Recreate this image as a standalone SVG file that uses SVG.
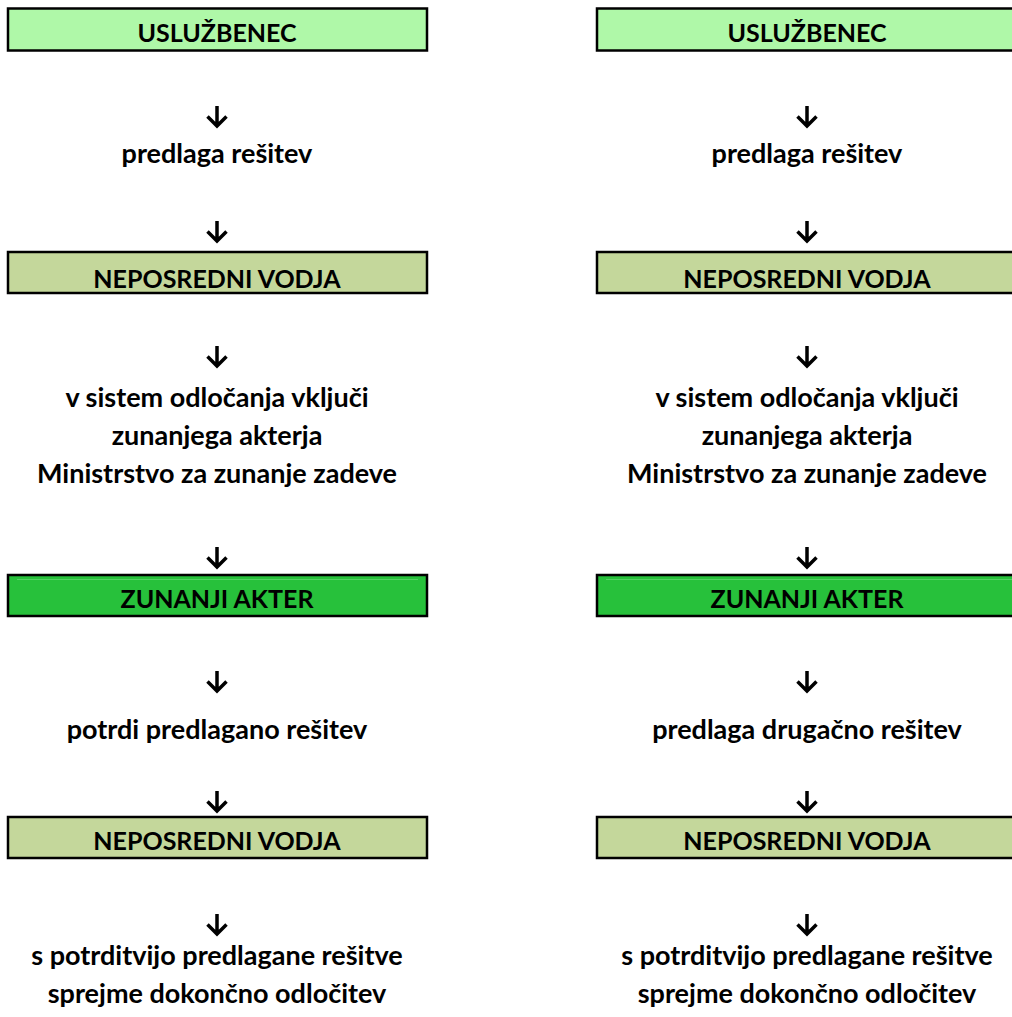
<svg xmlns="http://www.w3.org/2000/svg" width="1012" height="1017" viewBox="0 0 1012 1017">
  <style>
    .box { stroke: #000; stroke-width: 2.5; }
    .worker { fill: #aff8a8; }
    .lead { fill: #c4d79b; }
    .ext { fill: #27c13b; }
    .shine { stroke: #52d362; stroke-width: 1; }
    .lbl { font-family: Lato, "Liberation Sans", sans-serif; font-weight: bold; font-size: 25px; fill: #000; text-anchor: middle; }
    .txt { font-family: Lato, "Liberation Sans", sans-serif; font-weight: bold; font-size: 27px; fill: #000; text-anchor: middle; }
    .arr { fill: none; stroke: #000; stroke-width: 3.5; stroke-linejoin: miter; }
  </style>
  <defs>
    <!-- downward arrow, tip at (0,0) -->
    <path id="down" class="arr" d="M0,-21 V-1.5 M-9.5,-10.5 L0,-1 L9.5,-10.5"/>
  </defs>
  <rect width="1012" height="1017" fill="#fff"/>

  <!-- left column -->
  <g id="l-usluzbenec"><rect class="box worker" x="8" y="8.5" width="419" height="42"/><text class="lbl" x="217" y="41.5">USLUŽBENEC</text></g>
  <g id="l-predlaga"><text class="txt" x="217" y="163">predlaga rešitev</text></g>
  <g id="l-vodja1"><rect class="box lead" x="8" y="252" width="419" height="41"/><text class="lbl" x="217" y="288">NEPOSREDNI VODJA</text></g>
  <g id="l-vkljuci"><text class="txt" x="217" y="407">v sistem odločanja vključi</text><text class="txt" x="217" y="445">zunanjega akterja</text><text class="txt" x="217" y="483">Ministrstvo za zunanje zadeve</text></g>
  <g id="l-akter"><rect class="box ext" x="8" y="575" width="419" height="41"/><line class="shine" x1="17" y1="579.5" x2="418" y2="579.5"/><text class="lbl" x="217" y="608">ZUNANJI AKTER</text></g>
  <g id="l-potrdi"><text class="txt" x="217" y="739">potrdi predlagano rešitev</text></g>
  <g id="l-vodja2"><rect class="box lead" x="8" y="817" width="419" height="41"/><text class="lbl" x="217" y="850">NEPOSREDNI VODJA</text></g>
  <g id="l-odlocitev"><text class="txt" x="217" y="965">s potrditvijo predlagane rešitve</text><text class="txt" x="217" y="1003">sprejme dokončno odločitev</text></g>

  <!-- right column -->
  <g id="r-usluzbenec"><rect class="box worker" x="597" y="8.5" width="419" height="42"/><text class="lbl" x="807" y="41.5">USLUŽBENEC</text></g>
  <g id="r-predlaga"><text class="txt" x="807" y="163">predlaga rešitev</text></g>
  <g id="r-vodja1"><rect class="box lead" x="597" y="252" width="419" height="41"/><text class="lbl" x="807" y="288">NEPOSREDNI VODJA</text></g>
  <g id="r-vkljuci"><text class="txt" x="807" y="407">v sistem odločanja vključi</text><text class="txt" x="807" y="445">zunanjega akterja</text><text class="txt" x="807" y="483">Ministrstvo za zunanje zadeve</text></g>
  <g id="r-akter"><rect class="box ext" x="597" y="575" width="419" height="41"/><line class="shine" x1="606" y1="579.5" x2="1012" y2="579.5"/><text class="lbl" x="807" y="608">ZUNANJI AKTER</text></g>
  <g id="r-drugacno"><text class="txt" x="807" y="739">predlaga drugačno rešitev</text></g>
  <g id="r-vodja2"><rect class="box lead" x="597" y="817" width="419" height="41"/><text class="lbl" x="807" y="850">NEPOSREDNI VODJA</text></g>
  <g id="r-odlocitev"><text class="txt" x="807" y="965">s potrditvijo predlagane rešitve</text><text class="txt" x="807" y="1003">sprejme dokončno odločitev</text></g>

  <!-- flow arrows -->
  <g id="connectors">
    <use href="#down" x="217" y="127"/>
    <use href="#down" x="217" y="242"/>
    <use href="#down" x="217" y="367"/>
    <use href="#down" x="217" y="568"/>
    <use href="#down" x="217" y="692"/>
    <use href="#down" x="217" y="812"/>
    <use href="#down" x="217" y="935"/>
    <use href="#down" x="807" y="127"/>
    <use href="#down" x="807" y="242"/>
    <use href="#down" x="807" y="367"/>
    <use href="#down" x="807" y="568"/>
    <use href="#down" x="807" y="692"/>
    <use href="#down" x="807" y="812"/>
    <use href="#down" x="807" y="935"/>
  </g>
</svg>
